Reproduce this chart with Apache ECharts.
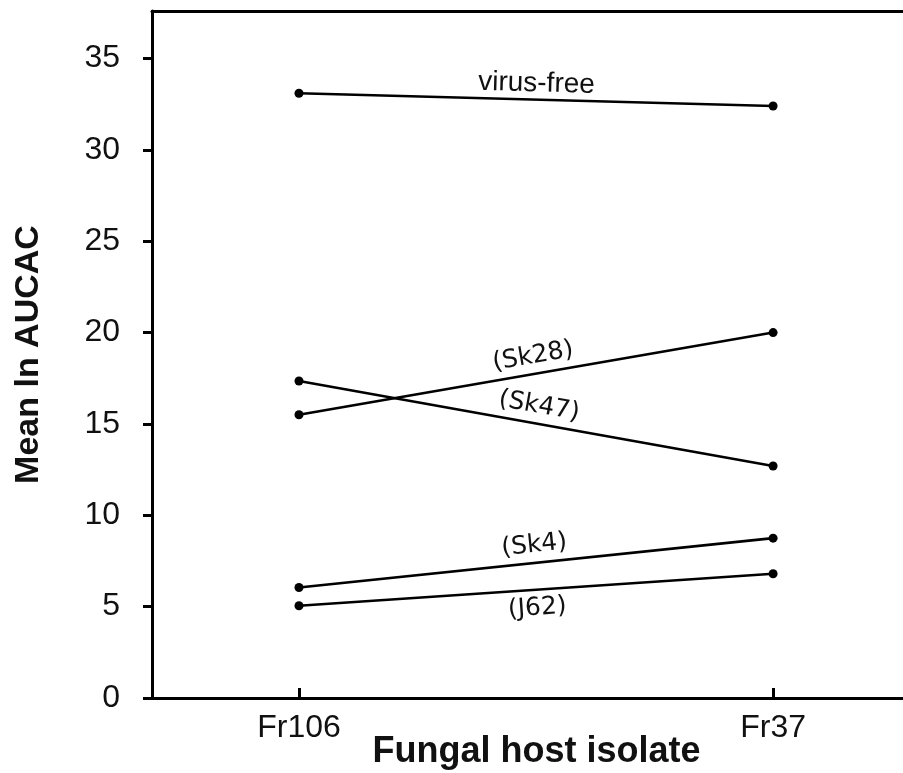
<!DOCTYPE html>
<html>
<head>
<meta charset="utf-8">
<script src="https://cdn.jsdelivr.net/npm/echarts@6/dist/echarts.min.js"></script>
<style>
  html, body { margin: 0; padding: 0; background: #fff; }
  #chart { width: 903px; height: 773px; }
</style>
</head>
<body>
<div id="chart"></div>
<script>
// fungal host isolates (x positions 0 and 1)
var hosts = ["Fr106", "Fr37"];
var yTicks = [0, 5, 10, 15, 20, 25, 30, 35];

// mean ln AUCAC per virus treatment, [Fr106, Fr37]
var virusFree = [33.1, 32.4];
var sk28 = [15.5, 20.0];
var sk47 = [17.35, 12.7];
var sk4 = [6.05, 8.75];
var j62 = [5.05, 6.8];

var lineNames = ["virus-free", "(Sk28)", "(Sk47)", "(Sk4)", "(J62)"];
var lineValues = [virusFree, sk28, sk47, sk4, j62];
var labelBelow = [false, false, false, false, true];

var chart = echarts.init(document.getElementById("chart"));

function makeSeries(name, vals, below) {
  var plain = name === "virus-free";
  return {
    name: name,
    type: "line",
    data: [[0, vals[0]], [1, vals[1]]],
    symbol: "circle",
    symbolSize: 9,
    itemStyle: { color: "#000" },
    lineStyle: { color: "#000", width: 2.6 },
    animation: false,
    markLine: {
      silent: true,
      symbol: ["none", "none"],
      lineStyle: { color: "transparent", width: 0 },
      label: {
        show: true,
        opacity: 1,
        formatter: name,
        position: below ? "insideMiddleBottom" : "insideMiddleTop",
        distance: below ? 6 : (plain ? 2 : 5),
        color: "#111",
        fontFamily: plain ? "Liberation Sans" : "DejaVu Sans",
        fontSize: plain ? 28 : 25
      },
      data: [[{ coord: [0, vals[0]] }, { coord: [1, vals[1]] }]]
    }
  };
}

var series = [];
for (var i = 0; i < lineNames.length; i++) {
  series.push(makeSeries(lineNames[i], lineValues[i], labelBelow[i]));
}

chart.setOption({
  backgroundColor: "#fff",
  animation: false,
  grid: {
    left: 152,
    right: 0,
    top: 11,
    bottom: 75,
    outerBoundsMode: "none"
  },
  xAxis: [
    {
      type: "value",
      min: -0.31,
      max: 1.274,
      name: "Fungal host isolate",
      nameLocation: "middle",
      nameGap: 36,
      nameMoveOverlap: false,
      nameTextStyle: {
        fontFamily: "Liberation Sans",
        fontWeight: "bold",
        fontSize: 36,
        color: "#111",
        padding: [0, 0, 0, 18]
      },
      axisLine: { show: true, onZero: false, lineStyle: { color: "#000", width: 3 } },
      axisTick: {
        show: true,
        inside: true,
        length: 10,
        lineStyle: { color: "#000", width: 3 },
        customValues: [0, 1]
      },
      axisLabel: {
        margin: 14,
        fontFamily: "Liberation Sans",
        fontSize: 32,
        color: "#111",
        customValues: [0, 1],
        formatter: function (v) {
          return hosts[Math.round(v)];
        }
      },
      splitLine: { show: false }
    },
    {
      type: "value",
      position: "top",
      min: -0.31,
      max: 1.274,
      axisLine: { show: true, onZero: false, lineStyle: { color: "#000", width: 3 } },
      axisTick: { show: false },
      axisLabel: { show: false },
      splitLine: { show: false }
    }
  ],
  yAxis: {
    type: "value",
    min: 0,
    max: 37.6,
    name: "Mean ln AUCAC",
    nameLocation: "middle",
    nameGap: 106,
    nameMoveOverlap: false,
    nameTextStyle: {
      fontFamily: "Liberation Sans",
      fontWeight: "bold",
      fontSize: 34,
      color: "#111"
    },
    axisLine: { show: true, onZero: false, lineStyle: { color: "#000", width: 3 } },
    axisTick: {
      show: true,
      length: 9,
      lineStyle: { color: "#000", width: 3 },
      customValues: yTicks
    },
    axisLabel: {
      margin: 32,
      fontFamily: "Liberation Sans",
      fontSize: 32,
      color: "#111",
      customValues: yTicks
    },
    splitLine: { show: false }
  },
  series: series
});
</script>
</body>
</html>
